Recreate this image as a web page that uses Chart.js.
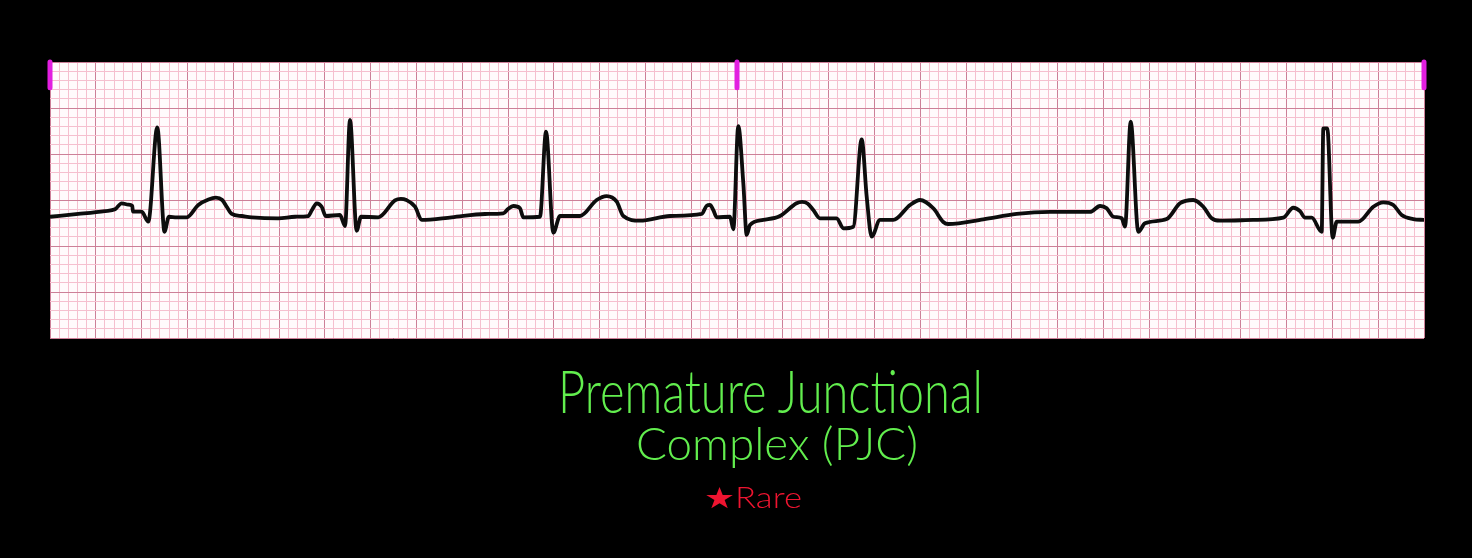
<!DOCTYPE html>
<html>
<head>
<meta charset="utf-8">
<script src="https://cdn.jsdelivr.net/npm/chart.js@4/dist/chart.umd.min.js"></script>
<style>
  html, body { margin: 0; padding: 0; background: #000; width: 1472px; height: 558px; overflow: hidden; }
  #wrap { position: absolute; left: 0; top: 0; width: 1472px; height: 558px; }
  .txt { position: absolute; white-space: nowrap; font-family: Lato, "Open Sans", sans-serif; font-weight: 300; line-height: 1; transform-origin: 0 0; }
  #t1 { color: #62ee4e; font-size: 60px; }
  #t2 { color: #62ee4e; font-size: 46px; }
  #t3 { color: #ee1430; font-size: 29px; }
</style>
</head>
<body>
<div id="wrap"><canvas id="c" width="1472" height="558"></canvas></div>
<div class="txt" id="t1" data-left="558" data-width="425" data-top="360">Premature Junctional</div>
<div class="txt" id="t2" data-left="636" data-width="282" data-top="420">Complex (PJC)</div>
<div class="txt" id="t3" data-left="704" data-width="98" data-top="482">★Rare</div>
<script>
// ECG strip: x in small boxes (mm at 25 mm/s, 0..150 = 6 s), y in mm from bottom edge of strip (0..30)
const traceX = [0, 3.09, 6.00, 7.10, 7.83, 8.55, 8.98, 9.06, 10.01, 10.73, 11.71, 12.37, 12.48, 12.99, 13.83, 14.92,
  16.19, 17.30, 18.10, 18.80, 19.29, 19.84, 20.93, 22.02, 24.92, 26.75,
  28.20, 28.60, 29.12, 29.66, 30.10, 31.66, 32.21, 32.75, 33.48, 33.95, 35.84, 37.66, 38.30, 38.90, 39.85, 40.58, 43.85,
  47.49, 49.49, 50.00, 50.58, 51.31, 51.67, 53.49, 54.15, 54.95, 55.68, 57.86, 59.68, 60.77, 61.87, 62.59, 64.41,
  67.69, 71.15, 71.69, 72.05, 72.41, 72.78, 74.24, 74.60, 75.14, 75.69, 76.06, 76.42, 77.87, 79.69, 81.50, 82.10, 82.70,
  83.33, 84.06, 85.88, 86.61, 87.70, 88.61, 89.16, 89.70, 90.61, 92.06, 93.89, 94.98, 96.43, 97.52, 98.07,
  101.89, 105.53, 109.17, 113.54, 114.63, 115.36, 116.08, 117.00, 117.36, 117.98, 118.81, 119.54, 121.91,
  123.36, 124.81, 125.91, 126.82, 127.73, 131.36, 134.64, 135.73, 136.46, 137.01, 137.74, 138.83, 139.01,
  139.44, 140.03, 140.47, 142.83, 144.47, 145.56, 146.65, 147.56, 148.83, 150];
const traceY = [13.18, 13.48, 13.80, 13.99, 14.64, 14.49, 14.35, 13.73, 13.73, 12.64, 22.90, 12.47, 11.55, 13.18, 13.12, 13.12,
  14.46, 15.05, 15.25, 15.00, 14.27, 13.48, 13.26, 13.12, 13.01, 13.18,
  13.26, 13.91, 14.64, 14.27, 13.26, 13.37, 12.17, 23.70, 11.66, 13.18, 13.12, 14.95, 15.12, 15.00, 14.27, 12.83, 13.12,
  13.48, 13.55, 14.02, 14.35, 14.10, 13.12, 13.18, 22.42, 11.45, 13.26, 13.26, 15.00, 15.43, 14.82, 13.26, 12.75,
  13.26, 13.48, 14.38, 14.46, 13.91, 13.12, 13.18, 11.82, 23.04, 16.82, 11.20, 12.28, 12.83, 13.26, 14.65, 14.80, 14.62,
  13.91, 13.01, 13.01, 11.92, 12.10, 21.60, 15.36, 11.01, 12.83, 12.83, 14.46, 15.00, 14.10, 12.61, 12.39,
  12.90, 13.48, 13.70, 13.70, 14.35, 14.10, 13.18, 13.01, 12.10, 23.51, 11.55, 12.47, 12.93,
  14.64, 15.00, 14.27, 13.01, 12.75, 12.83, 13.08, 14.16, 13.80, 13.08, 13.08, 11.55, 22.79,
  22.79, 10.90, 12.64, 12.64, 14.27, 14.75, 14.46, 13.37, 12.93, 12.83];
// 3-second marks along the top edge of the strip
const markerX = [0, 75, 150];
const markerTop = 30;
const markerBottom = 27.2;
// grid: small boxes every 1 mm, large boxes every 5 mm
const gridX = Array.from({length: 151}, (_, i) => i);
const gridY = Array.from({length: 31}, (_, i) => i);

const tracePoints = traceX.map((x, i) => ({x: x, y: traceY[i]}));
const markerPoints = [];
markerX.forEach(x => { markerPoints.push({x: x, y: markerTop}, {x: x, y: markerBottom}, {x: x, y: null}); });

const LIGHT = 'rgb(245,192,207)';
const DARK = 'rgb(204,128,152)';

const paperBg = {
  id: 'paperBg',
  beforeDraw(chart) {
    const {ctx, chartArea: a} = chart;
    ctx.save();
    ctx.fillStyle = '#fffbfc';
    ctx.fillRect(a.left, a.top, a.right - a.left, a.bottom - a.top);
    ctx.restore();
  }
};

new Chart(document.getElementById('c'), {
  type: 'line',
  data: {
    datasets: [
      {
        data: tracePoints,
        borderColor: '#0d0d0d',
        borderWidth: 3.8,
        pointRadius: 0,
        cubicInterpolationMode: 'monotone',
        borderJoinStyle: 'round',
        borderCapStyle: 'round',
        fill: false
      },
      {
        data: markerPoints,
        borderColor: '#e21fe0',
        borderWidth: 5,
        pointRadius: 0,
        tension: 0,
        spanGaps: false,
        borderCapStyle: 'round',
        clip: false,
        fill: false
      }
    ]
  },
  options: {
    responsive: false,
    animation: false,
    events: [],
    layout: { padding: { left: 50, right: 48, top: 62, bottom: 220 } },
    plugins: { legend: { display: false }, tooltip: { enabled: false }, title: { display: false } },
    scales: {
      x: {
        type: 'linear', min: 0, max: 150,
        afterBuildTicks: s => { s.ticks = gridX.map(v => ({value: v})); },
        ticks: { display: false, autoSkip: false },
        grid: {
          drawTicks: false,
          lineWidth: 1,
          color: c => (c.tick && c.tick.value % 5 === 0) ? DARK : LIGHT
        },
        border: { display: false }
      },
      y: {
        type: 'linear', min: 0, max: 30,
        afterBuildTicks: s => { s.ticks = gridY.map(v => ({value: v})); },
        ticks: { display: false, autoSkip: false },
        grid: {
          drawTicks: false,
          lineWidth: 1,
          color: c => (c.tick && c.tick.value % 5 === 0) ? DARK : LIGHT
        },
        border: { display: false }
      }
    }
  },
  plugins: [paperBg]
});

// fit the caption lines to their widths
document.querySelectorAll('.txt').forEach(el => {
  const w = el.getBoundingClientRect().width;
  const target = parseFloat(el.dataset.width);
  el.style.left = el.dataset.left + 'px';
  el.style.top = el.dataset.top + 'px';
  el.style.transform = 'scaleX(' + (target / w) + ')';
});
</script>
</body>
</html>
